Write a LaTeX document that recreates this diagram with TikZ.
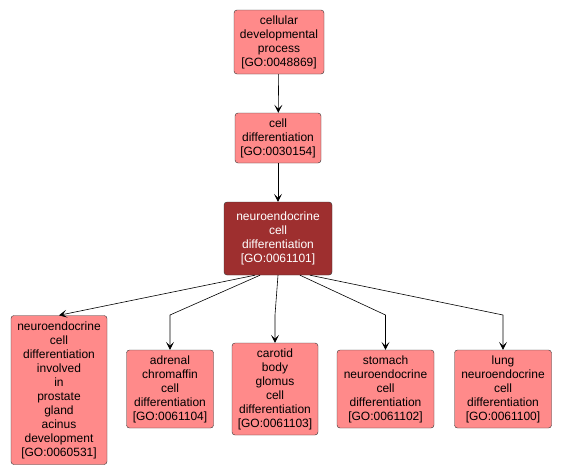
\documentclass[tikz,border=0pt]{standalone}
\usepackage{fontspec}
\setmainfont{Liberation Sans}
\usetikzlibrary{arrows.meta}
\definecolor{golight}{RGB}{255,138,138}
\definecolor{godark}{RGB}{158,47,47}
\tikzset{
  term/.style={draw=black!80, fill=golight, rounded corners=3pt, align=center,
    inner sep=0pt, font=\fontsize{12}{14}\selectfont},
  hit/.style={term, fill=godark, text=white},
  edge/.style={-{Stealth[length=8pt,width=8pt,inset=4pt]}, black, line width=0.6pt}
}
\begin{document}
\begin{tikzpicture}[x=1pt, y=-1pt]
            \useasboundingbox (0,0) rectangle (564,475);

            % Draw the upper terms
            \node[term, minimum width=90pt, minimum height=64pt] (cdp) at (279,42)
              {cellular\\developmental\\process\\{[GO:0048869]}};
            \node[term, minimum width=86pt, minimum height=50pt] (cd) at (278,138)
              {cell\\differentiation\\{[GO:0030154]}};
            \node[hit, minimum width=108pt, minimum height=73pt] (ncd) at (278,238.5)
              {neuroendocrine\\cell\\differentiation\\{[GO:0061101]}};

            % Draw the child terms
            \node[term, minimum width=96pt, minimum height=149pt] (prost) at (59,390)
              {neuroendocrine\\cell\\differentiation\\involved\\in\\prostate\\gland\\acinus\\development\\{[GO:0060531]}};
            \node[term, minimum width=87pt, minimum height=78pt] (adren) at (170,389)
              {adrenal\\chromaffin\\cell\\differentiation\\{[GO:0061104]}};
            \node[term, minimum width=86pt, minimum height=92pt] (carot) at (275,389)
              {carotid\\body\\glomus\\cell\\differentiation\\{[GO:0061103]}};
            \node[term, minimum width=97pt, minimum height=78pt] (stom) at (385.5,389)
              {stomach\\neuroendocrine\\cell\\differentiation\\{[GO:0061102]}};
            \node[term, minimum width=97pt, minimum height=78pt] (lung) at (503,389)
              {lung\\neuroendocrine\\cell\\differentiation\\{[GO:0061100]}};

            % Draw the edges
            \draw[edge] (cdp) -- (cd);
            \draw[edge] (cd) -- (ncd);
            \draw[edge] ([xshift=-23pt]ncd.south) -- (prost.north);
            \draw[edge] ([xshift=-18pt]ncd.south) -- (170,315) -- (adren.north);
            \draw[edge] (ncd.south) -- (275,315) -- (carot.north);
            \draw[edge] ([xshift=22pt]ncd.south) -- (385.5,315) -- (stom.north);
            \draw[edge] ([xshift=32pt]ncd.south) -- (503,315) -- (lung.north);
        \end{tikzpicture}
\end{document}
